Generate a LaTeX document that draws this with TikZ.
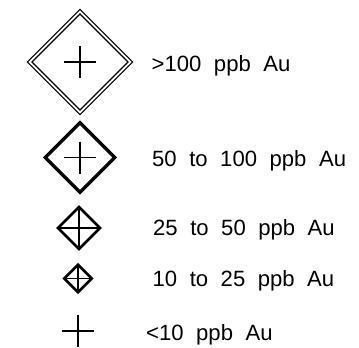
\documentclass[tikz,border=0pt]{standalone}
\usepackage{fontspec}
\newfontfamily\legendfont[WordSpace=2.04]{Liberation Sans}
\usetikzlibrary{shapes.geometric}

\begin{document}
\begin{tikzpicture}[x=1pt,y=-1pt,
  thinline/.style={line width=1.2pt},
  rhomb/.style={diamond,aspect=1,draw,inner sep=0pt,outer sep=0pt,
    minimum width=#1,minimum height=#1},
  legendtext/.style={anchor=base west,inner sep=0pt,
    font=\legendfont\fontsize{22.1}{26}\selectfont}]
  \useasboundingbox (0,0) rectangle (359,348);

  % >100 ppb: double diamond with a short cross
  \node[rhomb=105.2,thinline] (d1) at (80,62) {};
  \node[rhomb=96,thinline] (d1i) at (80,62) {};
  \draw[thinline] (d1.center) ++(-16,0) -- ++(32,0);
  \draw[thinline] (d1.center) ++(0,-16) -- ++(0,32);
  \node[legendtext] (t1) at (151.5,71) {>100 ppb Au};

  % 50 to 100 ppb: heavy diamond with a short cross
  \node[rhomb=69.4,line width=3.3pt] (d2) at (80,157.5) {};
  \draw[thinline] (d2.center) ++(-16,0) -- ++(32,0);
  \draw[thinline] (d2.center) ++(0,-16) -- ++(0,32);
  \node[legendtext] (t2) at (152,166.5) {50 to 100 ppb Au};

  % 25 to 50 ppb: diamond crossed corner to corner
  \node[rhomb=42,line width=2.7pt] (d3) at (79,228) {};
  \draw[thinline] (d3.north) -- (d3.south);
  \draw[thinline] (d3.west) -- (d3.east);
  \node[legendtext] (t3) at (153,235) {25 to 50 ppb Au};

  % 10 to 25 ppb: small diamond crossed corner to corner
  \node[rhomb=27.5,line width=2.7pt] (d4) at (78,278.5) {};
  \draw[thinline] (d4.north) -- (d4.south);
  \draw[thinline] (d4.west) -- (d4.east);
  \node[legendtext] (t4) at (152.5,286.5) {10 to 25 ppb Au};

  % <10 ppb: plain cross
  \coordinate (p5) at (78,331);
  \draw[thinline] (p5) ++(-16,0) -- ++(32,0);
  \draw[thinline] (p5) ++(0,-16) -- ++(0,32);
  \node[legendtext] (t5) at (146,340) {<10 ppb Au};
\end{tikzpicture}
\end{document}
